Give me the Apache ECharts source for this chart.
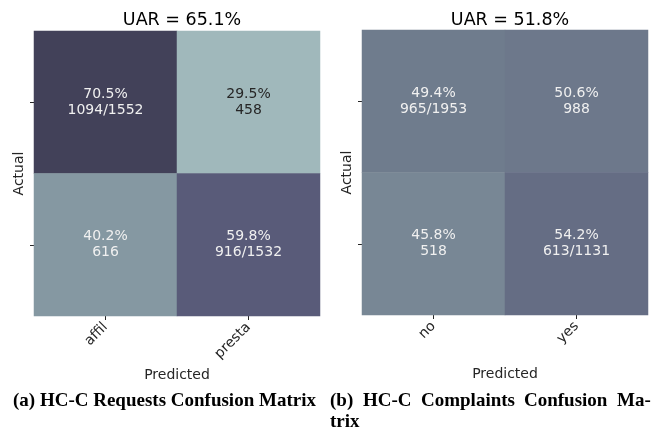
<!DOCTYPE html>
<html>
<head>
<meta charset="utf-8">
<script src="https://cdn.jsdelivr.net/npm/echarts@6/dist/echarts.min.js"></script>
<style>
  html, body { margin: 0; padding: 0; background: #fff; }
  #main { width: 658px; height: 429px; }
</style>
</head>
<body>
<div id="main"></div>
<script>
// categories
const reqCats = ['affil', 'presta']
const compCats = ['no', 'yes']
// rows = actual, cols = predicted
const reqPct = [[70.5, 29.5], [40.2, 59.8]]
const reqText = [['1094/1552', '458'], ['616', '916/1532']]
const compPct = [[49.4, 50.6], [45.8, 54.2]]
const compText = [['965/1953', '988'], ['518', '613/1131']]
const titles = ['UAR = 65.1%', 'UAR = 51.8%']
const capA = '(a) HC-C Requests Confusion Matrix'
const capBWords = ['(b)', 'HC-C', 'Complaints', 'Confusion', 'Ma-']
const capBEnd = 'trix'

const font = 'DejaVu Sans'
const capFont = 'bold 19px "Liberation Serif"'

function cells (pct, txt) {
  let out = []
  for (let r = 0; r < 2; r++) {
    for (let c = 0; c < 2; c++) {
      out.push({
        value: [c, r, pct[r][c]],
        extra: txt[r][c],
        label: { color: pct[r][c] < 35 ? '#262626' : '#f0f0f0' }
      })
    }
  }
  return out
}

function xAxis (cats, idx) {
  return {
    type: 'category',
    gridIndex: idx,
    data: cats,
    name: 'Predicted',
    nameLocation: 'middle',
    nameGap: 52,
    nameTextStyle: { fontFamily: font, fontSize: 14, color: '#262626' },
    axisLine: { show: false },
    axisTick: { show: true, alignWithLabel: true, length: 4, lineStyle: { color: '#262626' } },
    axisLabel: { rotate: 45, fontFamily: font, fontSize: 14, color: '#262626', margin: 9 },
    splitLine: { show: false }
  }
}

function yAxis (cats, idx) {
  return {
    type: 'category',
    gridIndex: idx,
    data: cats,
    inverse: true,
    name: 'Actual',
    nameLocation: 'middle',
    nameGap: 8,
    nameTextStyle: { fontFamily: font, fontSize: 14, color: '#262626' },
    axisLine: { show: false },
    axisTick: { show: true, alignWithLabel: true, length: 4, lineStyle: { color: '#262626' } },
    axisLabel: { show: false },
    splitLine: { show: false }
  }
}

function series (pct, txt, idx) {
  return {
    type: 'heatmap',
    xAxisIndex: idx,
    yAxisIndex: idx,
    data: cells(pct, txt),
    label: {
      show: true,
      fontFamily: font,
      fontSize: 14,
      lineHeight: 16,
      formatter: p => p.value[2].toFixed(1) + '%\n' + p.data.extra
    },
    emphasis: { disabled: true }
  }
}

// justify first line of caption (b) between x0 and x1
const ctx = document.createElement('canvas').getContext('2d')
ctx.font = capFont
const x0 = 330
const x1 = 651
const widths = capBWords.map(w => ctx.measureText(w).width)
const gap = (x1 - x0 - widths.reduce((a, b) => a + b, 0)) / (capBWords.length - 1)
let captions = [
  { type: 'text', left: 13, top: 392, style: { text: capA, font: capFont, fill: '#000' } },
  { type: 'text', left: x0, top: 413, style: { text: capBEnd, font: capFont, fill: '#000' } }
]
let cx = x0
capBWords.forEach((w, i) => {
  captions.push({ type: 'text', left: Math.round(cx), top: 392, style: { text: w, font: capFont, fill: '#000' } })
  cx += widths[i] + gap
})

const chart = echarts.init(document.getElementById('main'))
chart.setOption({
  animation: false,
  title: [
    { text: titles[0], left: 177, top: 6, textAlign: 'center', textStyle: { fontFamily: font, fontSize: 17.5, fontWeight: 'normal', color: '#000' } },
    { text: titles[1], left: 505, top: 6, textAlign: 'center', textStyle: { fontFamily: font, fontSize: 17.5, fontWeight: 'normal', color: '#000' } }
  ],
  grid: [
    { left: 34, top: 31, width: 286, height: 285 },
    { left: 362, top: 30, width: 286, height: 285 }
  ],
  visualMap: {
    show: false,
    seriesIndex: [0, 1],
    dimension: 2,
    min: 29.5,
    max: 70.5,
    inRange: { color: ['#a0b8bb', '#8699a3', '#6e7a8c', '#585a78', '#424159'] }
  },
  xAxis: [xAxis(reqCats, 0), xAxis(compCats, 1)],
  yAxis: [yAxis(reqCats, 0), yAxis(compCats, 1)],
  series: [series(reqPct, reqText, 0), series(compPct, compText, 1)],
  graphic: captions
})
</script>
</body>
</html>
